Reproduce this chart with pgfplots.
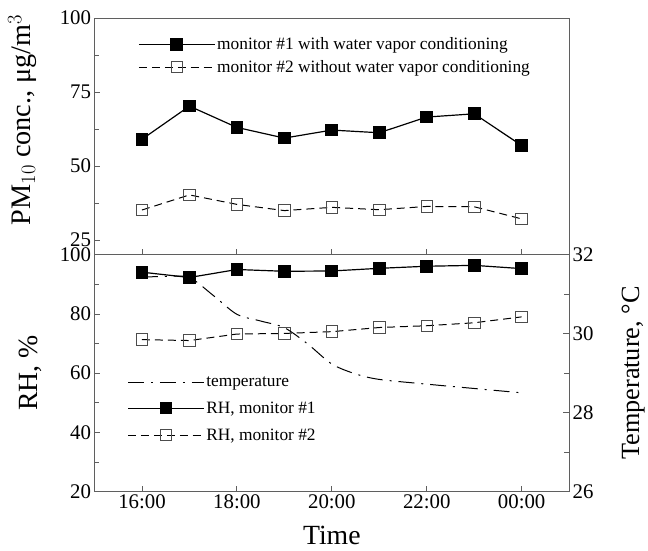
\documentclass[border=0pt]{standalone}
\usepackage{pgfplots}
\pgfplotsset{compat=1.18}
\usepackage{fontspec}
\setmainfont{Liberation Serif}
\definecolor{axgray}{RGB}{95,95,95}
\begin{document}
\begin{tikzpicture}
\pgfplotsset{
  every axis/.append style={
    scale only axis, width=477bp, height=238bp,
    xmin=15, xmax=25,
    axis line style={axgray, line width=0.8bp},
    tick style={axgray, line width=0.8bp},
    tick align=inside,
    major tick length=6bp, minor tick length=5bp,
    /pgf/number format/assume math mode=true,
    tick label style={font=\fontsize{21}{24}\selectfont},
  },
  mylegimg/.style={legend image code/.code={
    \draw[mark repeat=2,mark phase=2,##1] plot coordinates {(0bp,0bp) (38bp,0bp) (76bp,0bp)};}},
}
% top panel
\begin{axis}[name=top, at={(0,0)}, anchor=south west,
  ymin=20, ymax=100, ytick={25,50,75,100}, minor y tick num=1,
  xtick={16,18,20,22,24}, xticklabels={}, xtick pos=bottom, ytick pos=left,
  ylabel={PM$_{10}$ conc., μg/m$^3$},
  ylabel style={at={(axis description cs:-0.152,0.57)}, anchor=center, font=\fontsize{28.5}{32}\selectfont},
  legend style={draw=none, fill=none, at={(0.092,0.925)}, anchor=north west,
    inner sep=0pt, font=\fontsize{17.5}{20}\selectfont, row sep=5bp},
  legend cell align=left, mylegimg,
]
\addplot[black, line width=1.2bp, mark=square*, mark size=5.8bp] coordinates {
(16,59.0) (17,70.2) (18,63.0) (19,59.4) (20,62.1) (21,61.2) (22,66.5) (23,67.6) (24,56.9)};
\addlegendentry{monitor \#1 with water vapor conditioning}
\addplot[black, line width=1.0bp, dash pattern=on 8bp off 5bp, mark=square, mark size=5.8bp, mark options={solid, fill=none, line width=0.8bp, black!70}] coordinates {
(16,35.1) (17,40.2) (18,37.0) (19,34.9) (20,36.0) (21,35.2) (22,36.3) (23,36.2) (24,32.1)};
\addlegendentry{monitor \#2 without water vapor conditioning}
\end{axis}
% bottom panel
\begin{axis}[name=bot, at={(top.south west)}, anchor=north west,
  ymin=20, ymax=100, ytick={20,40,60,80,100}, minor y tick num=1,
  xtick={16,18,20,22,24}, xticklabels={16:00,18:00,20:00,22:00,00:00},
  xtick pos=bottom, ytick pos=left,
  xlabel={Time}, ylabel={RH, \%},
  xlabel style={at={(axis description cs:0.5,0)}, anchor=center, yshift=-44bp, font=\fontsize{28}{30}\selectfont},
  ylabel style={at={(axis description cs:-0.135,0.5)}, anchor=center, font=\fontsize{28}{30}\selectfont},
]
\addplot[black, line width=1.2bp, mark=square*, mark size=5.8bp] coordinates {
(16,94.1) (17,92.3) (18,95.0) (19,94.4) (20,94.5) (21,95.4) (22,96.1) (23,96.4) (24,95.3)};
\addplot[black, line width=1.0bp, dash pattern=on 8bp off 5bp, mark=square, mark size=5.8bp, mark options={solid, fill=none, line width=0.8bp, black!70}] coordinates {
(16,71.3) (17,71.0) (18,73.2) (19,73.4) (20,74.0) (21,75.4) (22,76.0) (23,77.0) (24,79.0)};
\end{axis}
% temperature on right axis
\begin{axis}[at={(bot.south west)}, anchor=south west,
  axis y line*=right, axis x line=none,
  ymin=26, ymax=32, ytick={26,28,30,32}, minor y tick num=1,
  ylabel={Temperature, °C},
  ylabel style={at={(axis description cs:1.135,0.5)}, anchor=center, font=\fontsize{26.5}{30}\selectfont},
  legend style={draw=none, fill=none, at={(0.069,0.495)}, anchor=north west,
    inner sep=0pt, font=\fontsize{17.5}{20}\selectfont, row sep=10bp},
  legend cell align=left, mylegimg,
]
\addplot[black, line width=1.0bp, smooth, dash pattern=on 16bp off 7bp on 2bp off 7bp] coordinates {
(16,31.43) (16.5,31.45) (17,31.42) (17.5,30.97) (18,30.49) (18.5,30.32) (19,30.15) (19.5,29.73) (20,29.23) (20.5,28.98) (21,28.84) (22,28.72) (23,28.61) (24,28.50)};
\addlegendentry{temperature}
\addlegendimage{black, line width=1.2bp, mark=square*, mark size=5.8bp}
\addlegendentry{RH, monitor \#1}
\addlegendimage{black, line width=1.0bp, dash pattern=on 8bp off 5bp, mark=square, mark size=5.8bp, mark options={solid, fill=none, line width=0.8bp, black!70}}
\addlegendentry{RH, monitor \#2}
\end{axis}
\path[use as bounding box] (-95bp,-297bp) rectangle (553bp,256bp);
\end{tikzpicture}
\end{document}
